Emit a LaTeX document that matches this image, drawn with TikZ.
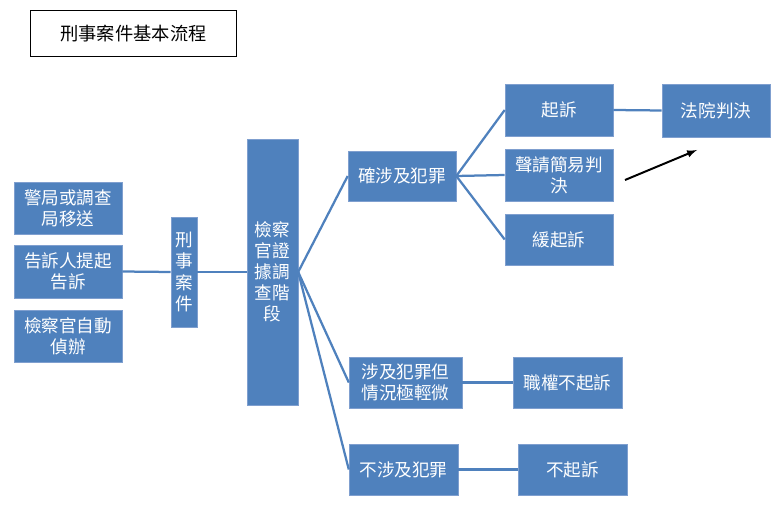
\documentclass[tikz,border=0pt]{standalone}
\usepackage{fontspec}
\setmainfont{Noto Sans CJK TC}
\usetikzlibrary{arrows,positioning}
\definecolor{bloque}{HTML}{4F81BD}
\definecolor{borde}{HTML}{7F9FCF}
\tikzstyle{paso}=[draw=borde, fill=bloque, text=white, align=center,
  inner sep=1pt, font=\fontsize{12.5}{15}\selectfont]
\tikzstyle{line}=[draw, line width=1.6pt, color=bloque]
\newcommand{\paso}[5]{node (p#1)[paso, minimum width=#3, minimum height=#4]{#5}}
\begin{document}
\begin{tikzpicture}[x=0.025cm, y=-0.025cm]
	\useasboundingbox (0,0) rectangle (780,510);
	
	% Title
	\node (titulo)[draw, line width=0.8pt, minimum width=5.15cm, minimum height=1.17cm,
	  font=\fontsize{13}{15}\selectfont] at (133.5,33.5) {刑事案件基本流程};
	
	% Draw diagram elements
	\path (68,208) \paso{1}{}{2.7cm}{1.3cm}{警局或調查\\局移送};
	\path (68,271.5) \paso{2}{}{2.7cm}{1.32cm}{告訴人提起\\告訴};
	\path (68,336) \paso{3}{}{2.7cm}{1.3cm}{檢察官自動\\偵辦};
	\path (184,272) \paso{4}{}{0.65cm}{2.75cm}{刑\\事\\案\\件};
	\path (272.5,272) \paso{5}{}{1.27cm}{6.65cm}{檢察\\官證\\據調\\查階\\段};
	
	\path (402,176) \paso{6}{}{2.7cm}{1.25cm}{確涉及犯罪};
	\path (405.5,382.5) \paso{7}{}{2.82cm}{1.27cm}{涉及犯罪但\\情況極輕微};
	\path (403.5,469.5) \paso{8}{}{2.72cm}{1.27cm}{不涉及犯罪};
	
	\path (559,110) \paso{9}{}{2.7cm}{1.3cm}{起訴};
	\path (559,175) \paso{10}{}{2.7cm}{1.3cm}{聲請簡易判\\決};
	\path (559,239.5) \paso{11}{}{2.7cm}{1.27cm}{緩起訴};
	\path (567.5,382.5) \paso{12}{}{2.72cm}{1.27cm}{職權不起訴};
	\path (572.5,469.5) \paso{13}{}{2.72cm}{1.27cm}{不起訴};
	\path (716,110.5) \paso{14}{}{2.7cm}{1.32cm}{法院判決};
	
	\coordinate (a0) at (625,180);
	\coordinate (a1) at (697,150);
	
	% Draw lines between elements
	\path [line] (p2.east) -- (p4.west);
	\path [line] (p4.east) -- (p5.west);
	\path [line] (p5.east) -- (p6.west);
	\path [line] (p5.east) -- (p7.west);
	\path [line] (p5.east) -- (p8.west);
	\path [line] (p6.east) -- (p9.west);
	\path [line] (p6.east) -- (p10.west);
	\path [line] (p6.east) -- (p11.west);
	\path [line] (p7.east) -- (p12.west);
	\path [line] (p8.east) -- (p13.west);
	\path [line] (p9.east) -- (p14.west);
	\draw [line width=1.4pt, -latex] (a0) -- (a1);
	
\end{tikzpicture}
\end{document}
